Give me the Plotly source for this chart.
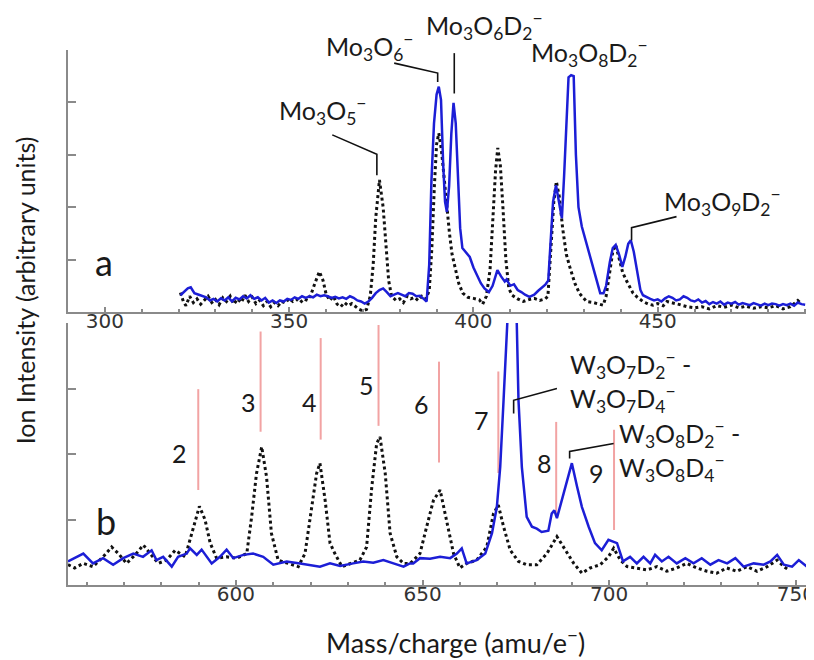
import plotly.graph_objects as go

# ---------------- Panel a (Mo) ----------------
a_blue_x = [320.5,321.5,322.5,323.3,324.3,325.5,326.5,327.5,328.5,329.5,330.5,331.5,332.5,333.5,334.5,335.5,336.5,337.5,338.5,339.5,
            340.5,341.5,342.5,343.5,344.5,345.5,346.5,347.5,348.5,349.5,350.5,351.5,352.5,353.5,354.5,355.5,356.5,357.5,358.5,359.5,
            360.5,361.5,362.5,363.5,364.5,365.5,366.5,367.5,368.5,369.5,370.5,371.5,372.5,373.5,374.5,375.5,376.5,377.5,378.5,379.5,
            380.5,381.5,382.5,383.5,384.5,385.5,386.5,387.3,388.0,388.6,389.3,390.0,390.6,391.2,391.8,392.3,392.8,393.4,394.0,394.6,
            395.2,395.8,396.4,397.0,398.0,399.0,400.0,401.0,402.0,403.0,404.2,405.2,406.5,407.5,408.5,409.0,410.0,411.0,412.0,413.0,
            414.0,415.2,416.5,417.5,418.5,419.5,420.3,421.0,421.6,422.4,423.2,424.0,424.6,425.2,425.8,426.5,427.2,427.8,428.5,429.4,
            430.5,431.5,432.5,433.5,434.4,435.3,436.0,437.0,437.8,438.6,439.5,440.4,441.2,442.0,442.7,443.5,444.5,445.3,446.0,447.0,
            448.0,449.0,450.0,451.0,452.0,453.0,454.0,455.0,456.0,457.0,458.0,459.0,460.0,461.0,462.0,463.0,464.0,465.0,466.0,467.0,
            468.0,469.0,470.0,471.0,472.0,473.0,474.0,475.0,476.0,477.0,478.0,479.0,480.0,481.0,482.0,483.0,484.0,485.0,486.0,487.0,
            488.0,489.0,490.0]
a_blue_y = [0.32,0.38,0.45,0.47,0.36,0.33,0.30,0.28,0.22,0.25,0.20,0.26,0.22,0.28,0.20,0.27,0.24,0.30,0.26,0.32,
            0.25,0.28,0.22,0.27,0.18,0.22,0.17,0.22,0.20,0.25,0.23,0.28,0.25,0.30,0.27,0.30,0.28,0.33,0.30,0.32,
            0.30,0.27,0.29,0.26,0.28,0.25,0.30,0.27,0.22,0.20,0.16,0.20,0.27,0.36,0.42,0.45,0.38,0.30,0.33,0.36,
            0.33,0.30,0.36,0.35,0.30,0.31,0.25,0.20,0.90,2.50,3.60,4.15,4.30,4.05,2.80,2.10,1.91,2.40,3.40,3.99,
            3.60,2.40,1.60,1.22,1.14,1.05,0.85,0.70,0.55,0.45,0.38,0.50,0.80,0.68,0.58,0.62,0.50,0.53,0.42,0.38,
            0.33,0.29,0.33,0.40,0.46,0.52,0.60,1.40,2.10,2.42,2.10,1.79,2.60,3.70,4.48,4.52,4.50,3.00,2.00,1.63,
            1.35,1.10,0.85,0.55,0.36,0.36,0.50,0.95,1.22,1.28,1.10,0.86,1.05,1.30,1.37,1.15,0.70,0.42,0.32,0.28,
            0.25,0.22,0.24,0.20,0.26,0.30,0.27,0.22,0.24,0.30,0.27,0.22,0.20,0.24,0.18,0.21,0.15,0.19,0.16,0.20,
            0.14,0.18,0.16,0.19,0.14,0.17,0.15,0.13,0.17,0.14,0.12,0.16,0.13,0.16,0.15,0.12,0.15,0.13,0.16,0.12,
            0.18,0.15,0.14]

a_dot_x = [320.5,321.3,322.0,323.0,324.0,325.0,326.0,327.0,328.0,329.0,330.0,331.0,332.0,333.0,334.0,335.0,336.0,337.0,338.0,339.0,
           340.0,341.0,342.0,343.0,344.0,345.0,346.0,347.0,348.0,349.0,350.0,351.0,352.0,353.0,354.0,355.0,356.0,357.0,358.2,359.2,
           360.0,361.0,362.0,363.0,364.0,365.0,366.0,367.0,368.0,369.0,370.0,371.0,372.0,372.8,373.5,374.5,375.5,376.3,377.0,377.8,
           379.0,380.0,381.0,382.0,383.0,384.0,385.0,386.0,387.0,388.0,388.7,389.4,390.0,390.6,391.3,392.0,392.6,393.5,394.2,394.9,
           396.0,397.1,398.5,400.0,401.6,402.5,403.5,404.5,405.3,406.0,406.6,407.3,408.0,408.8,409.6,410.5,412.0,413.5,415.2,416.5,
           418.0,419.5,420.2,421.0,421.8,422.5,423.3,424.2,425.2,426.1,427.5,428.8,430.7,432.5,434.0,435.2,436.0,437.0,437.8,438.6,
           439.5,440.5,441.5,442.5,443.3,444.5,446.0,447.5,448.7,450.0,451.5,452.5,454.0,456.0,458.0,460.0,462.0,464.0,466.0,468.0,
           470.0,472.0,474.0,476.0,478.0,480.0,482.0,484.0,486.0,488.0,489.0]
a_dot_y = [0.37,0.20,0.12,0.30,0.18,0.25,0.15,0.22,0.30,0.18,0.24,0.14,0.27,0.20,0.30,0.15,0.25,0.18,0.32,0.20,
           0.28,0.16,0.22,0.12,0.20,0.10,0.18,0.12,0.20,0.17,0.26,0.20,0.24,0.18,0.25,0.22,0.35,0.55,0.77,0.60,
           0.35,0.22,0.30,0.15,0.10,0.18,0.12,0.16,0.10,0.05,0.02,0.05,0.30,0.90,1.80,2.52,2.00,1.20,0.60,0.30,
           0.22,0.25,0.18,0.30,0.25,0.28,0.22,0.30,0.25,0.40,1.20,2.40,3.20,3.41,3.10,2.60,2.14,1.50,1.10,0.87,
           0.55,0.36,0.28,0.26,0.23,0.15,0.30,0.80,1.80,2.70,3.13,2.80,2.00,1.00,0.45,0.32,0.25,0.20,0.24,0.26,
           0.22,0.25,0.30,1.20,2.10,2.49,2.20,1.60,1.10,0.87,0.55,0.35,0.20,0.18,0.15,0.13,0.30,0.80,1.15,1.28,
           1.00,0.75,0.60,0.45,0.36,0.28,0.20,0.15,0.13,0.16,0.12,0.20,0.18,0.14,0.10,0.08,0.10,0.06,0.12,0.09,
           0.13,0.08,0.11,0.07,0.10,0.08,0.12,0.06,0.10,0.22,0.15]

# ---------------- Panel b (W) ----------------
b_blue_x = [555.0,559.1,561.7,564.4,567.1,569.8,572.5,575.1,577.4,578.7,580.5,582.8,584.5,586.8,587.7,589.5,590.8,593.5,595.7,597.5,
            599.3,602.0,604.6,607.3,610.0,613.6,617.2,619.8,622.5,625.2,627.9,631.4,634.1,636.8,639.5,642.2,644.9,646.6,647.5,649.3,
            652.0,654.7,657.4,659.2,660.5,661.8,664.5,666.8,668.6,669.9,670.8,671.7,672.4,673.0,674.2,675.1,675.7,676.6,677.9,679.3,
            680.6,681.9,683.7,684.6,685.3,686.0,687.8,690.0,691.4,692.7,694.5,696.2,698.0,699.8,702.1,703.7,705.6,707.4,709.2,711.0,
            712.3,714.1,715.9,718.1,720.4,722.6,724.8,727.1,729.3,731.6,733.8,736.0,738.7,741.4,743.2,745.0,746.8,749.0,750.8,753.0]
b_blue_y = [0.36,0.48,0.33,0.41,0.31,0.41,0.48,0.43,0.53,0.38,0.43,0.28,0.43,0.48,0.56,0.46,0.54,0.33,0.43,0.54,
            0.41,0.46,0.48,0.43,0.31,0.36,0.33,0.31,0.28,0.33,0.29,0.33,0.36,0.34,0.38,0.33,0.28,0.33,0.33,0.41,
            0.40,0.43,0.41,0.48,0.56,0.33,0.38,0.48,0.79,1.19,1.80,2.82,3.84,4.35,5.20,4.35,2.82,1.80,1.04,0.89,
            0.86,0.81,0.83,1.09,1.14,1.02,1.40,1.86,1.50,1.19,0.89,0.64,0.53,0.69,0.64,0.36,0.43,0.33,0.43,0.33,
            0.46,0.36,0.43,0.33,0.41,0.33,0.41,0.31,0.38,0.33,0.41,0.28,0.33,0.31,0.36,0.46,0.31,0.28,0.38,0.28]

b_dot_x = [555.0,556.8,559.1,561.7,564.4,566.7,568.5,570.7,573.0,575.2,577.0,579.2,581.4,583.7,586.4,588.2,590.2,591.7,593.1,594.8,
           597.5,600.2,602.9,604.2,605.5,606.9,608.2,609.5,611.3,614.0,616.7,618.5,620.3,621.6,622.5,623.9,625.2,626.5,628.4,630.6,
           633.2,635.0,636.4,637.7,638.6,640.0,641.3,643.1,644.9,646.7,649.3,651.1,652.9,654.7,656.5,658.3,660.0,661.8,664.5,667.2,
           669.0,670.3,671.7,673.5,675.7,677.9,680.6,683.3,686.0,688.2,690.5,692.7,694.9,697.6,699.8,701.2,703.0,704.8,707.4,710.1,
           712.8,715.4,718.1,720.8,723.5,726.2,728.8,731.5,734.2,736.9,739.6,742.3,745.0,746.8,748.1]
b_dot_y = [0.31,0.26,0.33,0.28,0.43,0.58,0.48,0.33,0.46,0.61,0.48,0.33,0.38,0.53,0.43,0.79,1.20,1.00,0.64,0.41,
           0.43,0.41,0.48,1.04,1.70,2.11,1.65,0.79,0.38,0.33,0.28,0.48,1.19,1.70,1.86,1.29,0.64,0.48,0.28,0.33,
           0.38,0.58,1.50,2.16,2.26,1.70,0.79,0.43,0.33,0.33,0.48,0.89,1.29,1.45,0.99,0.48,0.26,0.33,0.38,0.58,
           1.09,1.22,0.89,0.53,0.36,0.31,0.31,0.48,0.74,0.53,0.33,0.18,0.26,0.31,0.43,0.56,0.38,0.28,0.26,0.23,
           0.28,0.21,0.26,0.33,0.26,0.21,0.18,0.26,0.21,0.28,0.21,0.28,0.38,0.28,0.23]

# reference markers (red lines) in panel b: position, bottom, top, label, label position
ref_n = ["2", "3", "4", "5", "6", "7", "8", "9"]
ref_x = [589.9, 606.6, 622.7, 638.2, 654.4, 670.3, 685.8, 701.3]
ref_lo = [1.45, 2.34, 2.22, 2.43, 1.87, 1.71, 1.04, 0.84]
ref_hi = [2.99, 3.87, 3.77, 3.97, 3.41, 3.26, 2.49, 2.37]
ref_lab_x = [585.0, 603.3, 619.8, 635.0, 649.8, 665.9, 682.8, 696.7]
ref_lab_y = [2.01, 2.80, 2.80, 3.05, 2.77, 2.52, 1.86, 1.71]

# leader lines (callouts)
a_leads = [([361.7, 373.8, 373.8], [3.38, 3.01, 2.61]),
           ([378.5, 390.3, 390.3], [4.75, 4.56, 4.39]),
           ([394.8, 394.8], [4.94, 4.17]),
           ([455.1, 442.9, 442.9], [1.82, 1.61, 1.37])]
b_leads = [([686.0, 674.4, 674.4], [3.00, 2.82, 2.62]),
           ([701.2, 689.4, 689.4], [2.16, 2.04, 1.93])]

# labels of panel a (left edge in data units, y as fraction of the panel height)
a_labels = [("Mo<sub>3</sub>O<sub>5</sub><sup>−</sup>", 346.7, 0.770),
            ("Mo<sub>3</sub>O<sub>6</sub><sup>−</sup>", 359.4, 1.012),
            ("Mo<sub>3</sub>O<sub>6</sub>D<sub>2</sub><sup>−</sup>", 386.5, 1.092),
            ("Mo<sub>3</sub>O<sub>8</sub>D<sub>2</sub><sup>−</sup>", 415.0, 0.992),
            ("Mo<sub>3</sub>O<sub>9</sub>D<sub>2</sub><sup>−</sup>", 451.1, 0.420)]
b_labels = [("W<sub>3</sub>O<sub>7</sub>D<sub>2</sub><sup>−</sup> -", 689.0, 3.36),
            ("W<sub>3</sub>O<sub>7</sub>D<sub>4</sub><sup>−</sup>", 689.0, 2.85),
            ("W<sub>3</sub>O<sub>8</sub>D<sub>2</sub><sup>−</sup> -", 702.1, 2.32),
            ("W<sub>3</sub>O<sub>8</sub>D<sub>4</sub><sup>−</sup>", 702.1, 1.79)]

a_ticks = [300, 350, 400, 450]
b_ticks = [600, 650, 700, 750]

BLUE = "#1c1ed6"
AXC = "#8a8a8a"
TXT = "#1a1a1a"
FONT = "Lato"
LSIZE = 25

fig = go.Figure()

# panel a traces (x2/y2)
fig.add_trace(go.Scatter(x=a_dot_x, y=a_dot_y, mode="lines", xaxis="x2", yaxis="y2",
                         line=dict(color="#111111", width=3, dash="dot"), showlegend=False))
fig.add_trace(go.Scatter(x=a_blue_x, y=a_blue_y, mode="lines", xaxis="x2", yaxis="y2",
                         line=dict(color=BLUE, width=2.5), showlegend=False))
for lx, ly in a_leads:
    fig.add_trace(go.Scatter(x=lx, y=ly, mode="lines", xaxis="x2", yaxis="y2",
                             line=dict(color="#111111", width=1.6), showlegend=False))

# panel b traces
rx, ry = [], []
for x0, lo, hi in zip(ref_x, ref_lo, ref_hi):
    rx += [x0, x0, None]
    ry += [lo, hi, None]
fig.add_trace(go.Scatter(x=rx, y=ry, mode="lines", xaxis="x", yaxis="y",
                         line=dict(color="#f2a3a3", width=2), showlegend=False))
fig.add_trace(go.Scatter(x=b_dot_x, y=b_dot_y, mode="lines", xaxis="x", yaxis="y",
                         line=dict(color="#111111", width=3, dash="dot"), showlegend=False))
fig.add_trace(go.Scatter(x=b_blue_x, y=b_blue_y, mode="lines", xaxis="x", yaxis="y",
                         line=dict(color=BLUE, width=2.5), showlegend=False))
for lx, ly in b_leads:
    fig.add_trace(go.Scatter(x=lx, y=ly, mode="lines", xaxis="x", yaxis="y",
                             line=dict(color="#111111", width=1.6), showlegend=False))

ann = []
for t, x, y in a_labels:
    ann.append(dict(text=t, x=x, y=y, xref="x2", yref="y2 domain", showarrow=False,
                    xanchor="left", yanchor="middle",
                    font=dict(family=FONT, size=LSIZE, color=TXT)))
for t, x, y in b_labels:
    ann.append(dict(text=t, x=x, y=y, xref="x", yref="y", showarrow=False, xanchor="left",
                    yanchor="middle", font=dict(family=FONT, size=LSIZE, color=TXT)))
for t, x, y in zip(ref_n, ref_lab_x, ref_lab_y):
    ann.append(dict(text=t, x=x, y=y, xref="x", yref="y", showarrow=False,
                    font=dict(family=FONT, size=LSIZE, color=TXT)))
ann.append(dict(text="a", x=299.7, y=0.95, xref="x2", yref="y2", showarrow=False,
                font=dict(family=FONT, size=36, color=TXT)))
ann.append(dict(text="b", x=565.1, y=0.98, xref="x", yref="y", showarrow=False,
                font=dict(family=FONT, size=36, color=TXT)))
ann.append(dict(text="Ion Intensity (arbitrary units)", x=-0.058, y=0.551, xref="paper", yref="paper",
                xanchor="center", yanchor="middle",
                textangle=-90, showarrow=False, font=dict(family=FONT, size=25, color=TXT)))
ann.append(dict(text="Mass/charge (amu/e<sup>−</sup>)", x=0.524, y=-0.104, xref="paper", yref="paper",
                xanchor="center", yanchor="middle",
                showarrow=False, font=dict(family=FONT, size=27, color=TXT)))

xcommon = dict(showline=True, linecolor=AXC, linewidth=2, ticks="inside", ticklen=5, tickwidth=1.5,
               tickcolor=AXC, showgrid=False, zeroline=False, automargin=False, ticklabelstandoff=-10,
               ticklabeloverflow="allow",
               tickfont=dict(family="DejaVu Sans", size=20, color="#333333"),
               minor=dict(dtick=10, ticks="inside", ticklen=3, tickcolor=AXC, tickwidth=1.5))
ycommon = dict(showline=True, linecolor=AXC, linewidth=2, ticks="inside", ticklen=8, tickwidth=1.5,
               tickcolor=AXC, showgrid=False, zeroline=False, showticklabels=False, dtick=1, tick0=0,
               automargin=False)

# the page body adds an 8px offset, so the figure is 8px smaller than the window
fig.update_layout(
    width=806, height=652,
    margin=dict(l=60, r=7, t=42, b=75, autoexpand=False),
    paper_bgcolor="white", plot_bgcolor="white",
    xaxis=dict(domain=[0, 1], range=[555, 753], tickvals=b_ticks, anchor="y", **xcommon),
    yaxis=dict(domain=[0, 0.4897], range=[0, 4], anchor="x", **ycommon),
    xaxis2=dict(domain=[0, 1], range=[290, 490.5], tickvals=a_ticks, anchor="y2", **xcommon),
    yaxis2=dict(domain=[0.5103, 1], range=[0, 5], anchor="x2", **ycommon),
    annotations=ann,
)

fig.write_html("out.html")
